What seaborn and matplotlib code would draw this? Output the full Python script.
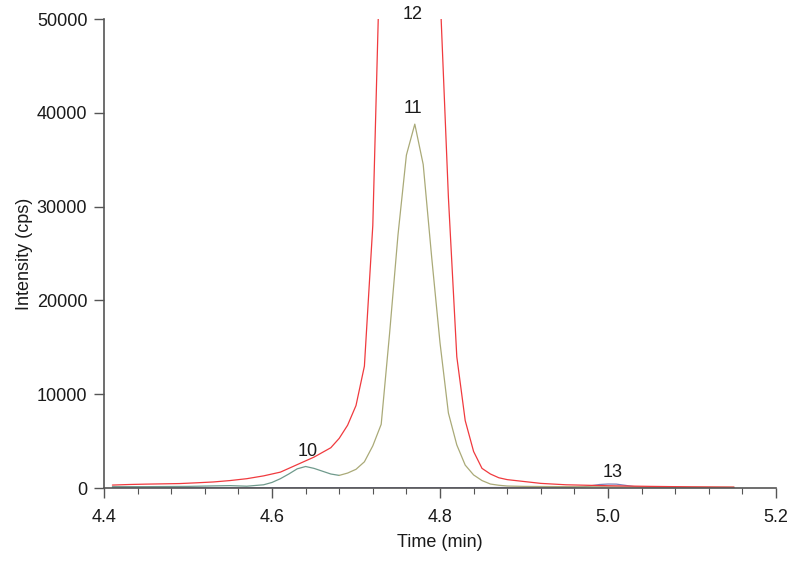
import matplotlib
matplotlib.use("Agg")
import matplotlib.pyplot as plt
from matplotlib.ticker import MultipleLocator
import seaborn as sns
import pandas as pd

# ---- data ----
# trace for peak 12 (red)
red_time = [4.41, 4.43, 4.45, 4.47, 4.49, 4.51, 4.53, 4.55, 4.57, 4.59, 4.61, 4.63,
            4.65, 4.67, 4.68, 4.69, 4.70, 4.71, 4.72, 4.73, 4.74, 4.75, 4.76, 4.77,
            4.78, 4.79, 4.80, 4.81, 4.82, 4.83, 4.84, 4.85, 4.86, 4.87, 4.88, 4.90,
            4.92, 4.95, 5.00, 5.05, 5.10, 5.15]
red_int = [320, 380, 420, 450, 480, 560, 650, 800, 1000, 1300, 1700, 2500,
           3300, 4300, 5300, 6700, 8800, 13000, 28000, 62000, 110000, 160000, 190000, 195000,
           170000, 110000, 53000, 31000, 14000, 7200, 3900, 2100, 1500, 1100, 900, 700,
           500, 350, 250, 180, 130, 100]

# trace for peak 10 (grey-green)
p10_time = [4.41, 4.45, 4.50, 4.53, 4.55, 4.57, 4.59, 4.60, 4.61, 4.62, 4.63, 4.64,
            4.65, 4.66, 4.67, 4.68]
p10_int = [150, 150, 180, 230, 260, 200, 350, 600, 1000, 1500, 2050, 2300,
           2100, 1800, 1500, 1350]

# trace for peak 11 (olive)
p11_time = [4.68, 4.69, 4.70, 4.71, 4.72, 4.73, 4.74, 4.75, 4.76, 4.77, 4.78, 4.79,
            4.80, 4.81, 4.82, 4.83, 4.84, 4.85, 4.86, 4.87, 4.88, 4.90, 4.95, 5.00,
            5.05, 5.10, 5.15]
p11_int = [1350, 1600, 2000, 2800, 4500, 6800, 16500, 27000, 35500, 38800, 34500, 24700,
           15500, 8000, 4600, 2450, 1400, 800, 430, 300, 220, 180, 150, 130,
           110, 100, 90]

# trace for peak 13 (blue-grey)
p13_time = [4.41, 4.60, 4.80, 4.96, 4.97, 4.98, 4.99, 5.00, 5.01, 5.02, 5.03, 5.04,
            5.05, 5.10, 5.15]
p13_int = [40, 40, 40, 80, 120, 250, 380, 430, 420, 300, 170, 90,
           60, 50, 40]

peak_names = ["10", "11", "12", "13"]
peak_label_time = [4.643, 4.768, 4.768, 5.005]
peak_label_int = [3950, 40500, 50500, 1700]

# ---- plot ----
sns.set_style("white")
plt.rcParams["font.family"] = ["Liberation Sans", "DejaVu Sans"]

fig = plt.figure(figsize=(8, 5.61), dpi=100)
ax = fig.add_axes([0.13, 0.13, 0.84, 0.836])

lw = 0.9
sns.lineplot(x=p13_time, y=p13_int, color="#8080b8", linewidth=lw, ax=ax,
             estimator=None, sort=False)
sns.lineplot(x=p10_time, y=p10_int, color="#6f9a8c", linewidth=lw, ax=ax,
             estimator=None, sort=False)
sns.lineplot(x=p11_time, y=p11_int, color="#aaaa78", linewidth=lw, ax=ax,
             estimator=None, sort=False)
sns.lineplot(x=red_time, y=red_int, color="#f03a3e", linewidth=lw, ax=ax,
             estimator=None, sort=False)

for name, t, v in zip(peak_names, peak_label_time, peak_label_int):
    ax.text(t, v, name, ha="center", va="center", fontsize=13, color="#1a1a1a",
            clip_on=False)

ax.set_xlim(4.4, 5.2)
ax.set_ylim(0, 50000)
ax.xaxis.set_major_locator(MultipleLocator(0.2))
ax.xaxis.set_minor_locator(MultipleLocator(0.04))
ax.yaxis.set_major_locator(MultipleLocator(10000))
ax.set_xticks([4.4, 4.6, 4.8, 5.0, 5.2])
ax.set_xticklabels(["4.4", "4.6", "4.8", "5.0", "5.2"])

for s in ["top", "right"]:
    ax.spines[s].set_visible(False)
for s in ["left", "bottom"]:
    ax.spines[s].set_color("#555555")
    ax.spines[s].set_linewidth(1.2)

ax.tick_params(axis="both", which="major", direction="out", length=7, width=1,
               color="#555555", labelsize=13, labelcolor="#1a1a1a", bottom=True, left=True)
ax.tick_params(axis="x", which="major", pad=8)
ax.tick_params(axis="y", which="major", pad=5)
ax.tick_params(axis="x", which="minor", direction="out", length=4, width=0.8,
               color="#555555", bottom=True)

ax.set_xlabel("Time (min)", fontsize=13, color="#1a1a1a", labelpad=6)
ax.set_ylabel("Intensity (cps)", fontsize=13, color="#1a1a1a", labelpad=3)

fig.savefig("out.png", dpi=100)
